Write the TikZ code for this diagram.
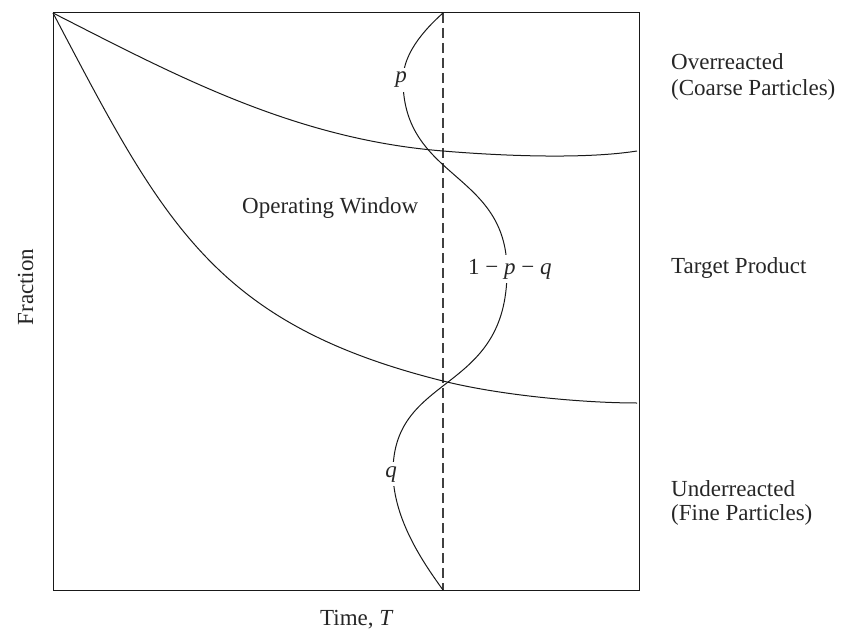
\documentclass[tikz,border=0pt]{standalone}
\usepackage{fontspec}
\setmainfont{Liberation Serif}
\begin{document}
\begin{tikzpicture}[x=1pt,y=-1pt,
  frame/.style={line width=1pt, draw=black!90},
  curve/.style={line width=1pt, draw=black!90},
  guide/.style={line width=1.2pt, draw=black!75, dash pattern=on 10pt off 5pt},
  lbl/.style={font=\fontsize{23}{27}\selectfont, inner sep=0pt, text=black!85},
  cut/.style={lbl, fill=white, inner xsep=1pt, inner ysep=4pt}]
\useasboundingbox (0,0) rectangle (842,631);
% frame
\coordinate (tl) at (53,13);
\coordinate (br) at (639,590);
\coordinate (dtop) at (443,13);
\coordinate (dbot) at (443,590);
\draw[frame] (tl) rectangle (br);
% dashed time line
\draw[guide] (dtop) -- (dbot);
% upper curve (overreacted boundary)
\draw[curve] (tl) .. controls (173,74) and (293,139) .. (443,151)
  .. controls (490,155) and (580,160) .. (637,151);
% lower curve (underreacted boundary)
\draw[curve] (tl) .. controls (163,222) and (213,323.5) .. (443,381)
  .. controls (503,396) and (587,403) .. (637,403);
% S-shaped distribution curve
\draw[curve] (dtop) .. controls (415,38) and (403,60) .. (403,80)
  .. controls (403,180) and (507,171) .. (507,271)
  .. controls (507,395) and (393,372) .. (393,472)
  .. controls (393,520) and (425,565) .. (dbot);
% labels on the curve
\node[cut, anchor=base] (p) at (401,83) {\itshape p};
\node[cut, anchor=base west] (pq) at (467,274) {1 − \textit{p} − \textit{q}};
\node[cut, anchor=base] (q) at (391,477) {\itshape q};
% region label
\node[lbl, anchor=base west] (ow) at (242,213) {Operating Window};
% right-hand labels
\node[lbl, anchor=base west] (over1) at (671,70) {Overreacted};
\node[lbl, anchor=base west] (over2) at (671,96) {(Coarse Particles)};
\node[lbl, anchor=base west] (target) at (671,273) {Target Product};
\node[lbl, anchor=base west] (under1) at (671,496) {Underreacted};
\node[lbl, anchor=base west] (under2) at (671,520) {(Fine Particles)};
% axis labels
\node[lbl, anchor=base, rotate=90] (ylab) at (33,287) {Fraction};
\node[lbl, anchor=base west] (xlab) at (320,625) {Time, \textit{T}};
\end{tikzpicture}
\end{document}
